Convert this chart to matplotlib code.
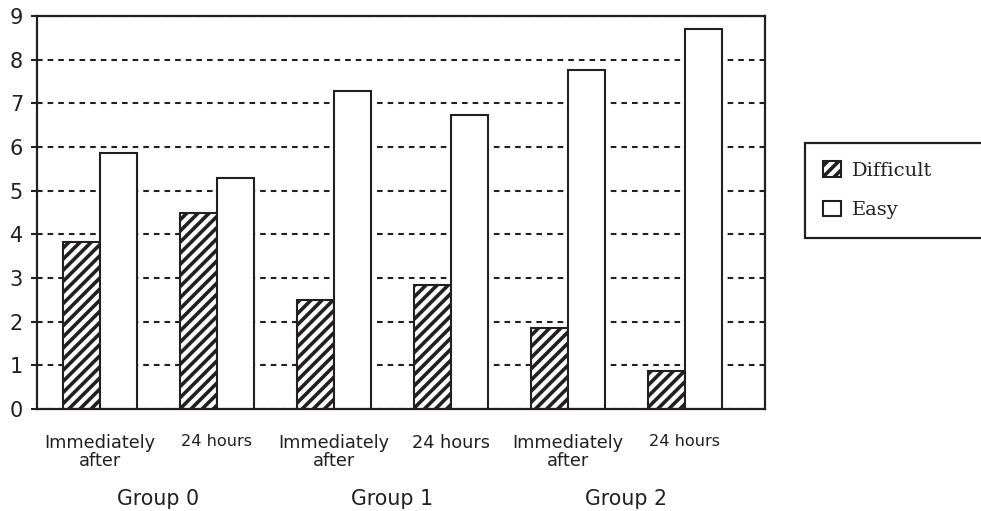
import matplotlib

matplotlib.use('Agg')
import matplotlib.pyplot as plt
import matplotlib.transforms as mtransforms
import numpy as np
from matplotlib.patches import Patch

# chart data
categories = ['Immediately\nafter', '24 hours', 'Immediately\nafter',
              '24 hours', 'Immediately\nafter', '24 hours']
groups = ['Group 0', 'Group 1', 'Group 2']
difficult = [3.83, 4.49, 2.49, 2.84, 1.86, 0.87]
easy = [5.87, 5.28, 7.28, 6.73, 7.77, 8.70]
y_ticks = [0, 1, 2, 3, 4, 5, 6, 7, 8, 9]

INK = '#231f20'
W = 0.315
HATCH = '///'

plt.rcParams['hatch.linewidth'] = 2.6
plt.rcParams['hatch.color'] = INK

fig = plt.figure(figsize=(9.81, 5.11), dpi=100)
ax = fig.add_axes([37 / 981, 1 - 409 / 511, 728 / 981, 393 / 511])

x = np.arange(len(categories))
ax.bar(x - W / 2, difficult, W, color='white', edgecolor=INK, lw=1.5,
       hatch=HATCH, zorder=2, label='Difficult')
ax.bar(x + W / 2, easy, W, color='white', edgecolor=INK, lw=1.5,
       zorder=2, label='Easy')

ax.set_xlim(-0.538, 5.684)
ax.set_ylim(0, 9)
ax.set_yticks(y_ticks)
ax.yaxis.grid(True, color=INK, lw=1.5, ls=(0, (2.7, 2.4)), zorder=0)
ax.set_axisbelow(True)
for s in ax.spines.values():
    s.set_color(INK)
    s.set_linewidth(1.6)
ax.tick_params(axis='y', labelsize=15, length=4, width=1.5, pad=6,
               colors=INK)
ax.set_xticks(x)
ax.set_xticklabels(categories, fontsize=12.8, linespacing=1.0, color=INK)
ax.tick_params(axis='x', length=0, pad=18)
for i, t in enumerate(ax.get_xticklabels()):
    if i in (1, 5):
        t.set_fontsize(11.6)

# group names under each pair of categories
trans = mtransforms.blended_transform_factory(ax.transData, fig.transFigure)
for gi, name in enumerate(groups):
    ax.text(2 * gi + 0.5, 1 - 505 / 511, name, transform=trans, ha='center',
            va='baseline', fontsize=14.8, color=INK)

handles = [Patch(facecolor='white', edgecolor=INK, lw=1.5, hatch=HATCH),
           Patch(facecolor='white', edgecolor=INK, lw=1.5)]
leg = fig.legend(handles, ['Difficult', 'Easy'], loc='upper left',
                 bbox_to_anchor=(805 / 981, 0, 0.3, 1 - 143 / 511),
                 bbox_transform=fig.transFigure, mode='expand',
                 prop={'family': 'DejaVu Serif', 'size': 14},
                 handlelength=0.88, handleheight=0.88, handletextpad=0.6,
                 labelspacing=1.05, borderpad=0.95, borderaxespad=0,
                 fancybox=False, framealpha=1)
leg.get_frame().set_edgecolor(INK)
leg.get_frame().set_linewidth(1.6)
for t in leg.get_texts():
    t.set_color(INK)

fig.savefig('out.png', dpi=100)
